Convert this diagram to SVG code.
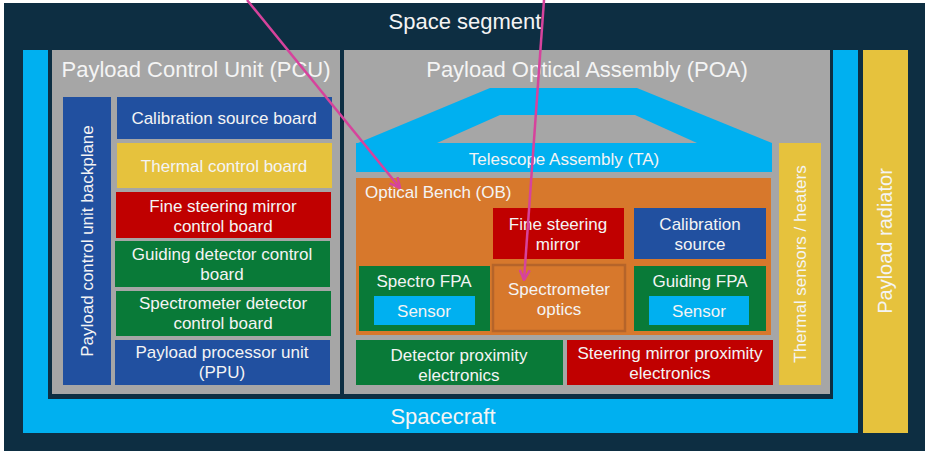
<svg xmlns="http://www.w3.org/2000/svg" width="925" height="451" viewBox="0 0 925 451">
  <defs>
    <style>
      text { font-family: "Liberation Sans", Arial, sans-serif; fill: #F4F4F4; text-anchor: middle; }
      .title { font-size: 22px; }
      .lbl { font-size: 17px; }
      .navy { fill: #0D2E42; }
      .sky { fill: #00B0F0; }
      .grey { fill: #A6A6A6; }
      .blue { fill: #2150A0; }
      .yellow { fill: #E6C23D; }
      .red { fill: #C00000; }
      .green { fill: #097A38; }
      .orange { fill: #D7782C; }
      .conn { stroke: #D6439C; stroke-width: 2.5; fill: none; }
    </style>
    <marker id="vhead" viewBox="0 0 12 12" refX="11" refY="6" markerWidth="12" markerHeight="12" markerUnits="userSpaceOnUse" orient="auto">
      <path d="M1,1 L11,6 L1,11" fill="none" stroke="#D6439C" stroke-width="2.5"/>
    </marker>
  </defs>

  <rect width="925" height="451" fill="#FFFFFF"/>

  <!-- Space segment -->
  <g id="space-segment">
    <rect class="navy" x="4" y="3" width="921" height="448"/>
    <text class="title" x="465" y="29">Space segment</text>
  </g>

  <!-- Spacecraft -->
  <g id="spacecraft">
    <rect class="sky" x="23" y="50" width="835" height="383"/>
    <rect class="navy" x="48" y="50" width="785" height="349"/>
    <text class="title" x="443" y="424">Spacecraft</text>
  </g>

  <!-- Payload radiator -->
  <g id="payload-radiator">
    <rect class="yellow" x="863" y="50" width="45" height="383"/>
    <text class="title" style="font-size:20px" transform="translate(892,241) rotate(-90)">Payload radiator</text>
  </g>

  <!-- Payload Control Unit -->
  <g id="pcu">
    <rect class="grey" x="52" y="50" width="288" height="344"/>
    <text class="title" x="196" y="77">Payload Control Unit (PCU)</text>
  </g>

  <g id="pcu-backplane">
    <rect class="blue" x="63" y="97" width="48" height="288"/>
    <text class="lbl" transform="translate(93,241) rotate(-90)">Payload control unit backplane</text>
  </g>

  <g id="calibration-source-board">
    <rect class="blue" x="117" y="97" width="215" height="42"/>
    <text class="lbl" x="224" y="124">Calibration source board</text>
  </g>

  <g id="thermal-control-board">
    <rect class="yellow" x="117" y="143" width="215" height="45"/>
    <text class="lbl" x="224" y="172">Thermal control board</text>
  </g>

  <g id="fsm-control-board">
    <rect class="red" x="116" y="192" width="215" height="46"/>
    <text class="lbl" x="223" y="212">Fine steering mirror</text>
    <text class="lbl" x="223" y="232">control board</text>
  </g>

  <g id="guiding-detector-control-board">
    <rect class="green" x="115" y="241" width="215" height="46"/>
    <text class="lbl" x="222" y="260">Guiding detector control</text>
    <text class="lbl" x="222" y="280">board</text>
  </g>

  <g id="spectrometer-detector-control-board">
    <rect class="green" x="116" y="291" width="215" height="45"/>
    <text class="lbl" x="223" y="309">Spectrometer detector</text>
    <text class="lbl" x="223" y="329">control board</text>
  </g>

  <g id="ppu">
    <rect class="blue" x="115" y="340" width="215" height="45"/>
    <text class="lbl" x="222" y="358">Payload processor unit</text>
    <text class="lbl" x="222" y="378">(PPU)</text>
  </g>

  <!-- Payload Optical Assembly -->
  <g id="poa">
    <rect class="grey" x="344" y="50" width="486" height="344"/>
    <text class="title" x="587" y="77">Payload Optical Assembly (POA)</text>
  </g>

  <g id="telescope-assembly">
    <polygon class="sky" points="358,143 490,88 637,88 772,143"/>
    <polygon class="grey" points="437,143 500,115 635,115 697,143"/>
    <rect class="sky" x="356" y="143" width="416" height="29"/>
    <text class="lbl" x="564" y="165">Telescope Assembly (TA)</text>
  </g>

  <g id="thermal-sensors-heaters">
    <rect class="yellow" x="779" y="143" width="42" height="242"/>
    <text class="lbl" transform="translate(806,264) rotate(-90)">Thermal sensors / heaters</text>
  </g>

  <g id="optical-bench">
    <rect class="orange" x="356" y="178" width="415" height="157"/>
    <text class="lbl" x="365" y="198" style="text-anchor:start">Optical Bench (OB)</text>
  </g>

  <g id="fine-steering-mirror">
    <rect class="red" x="493" y="208" width="131" height="51"/>
    <text class="lbl" x="558" y="230">Fine steering</text>
    <text class="lbl" x="558" y="250">mirror</text>
  </g>

  <g id="calibration-source">
    <rect class="blue" x="634" y="208" width="132" height="51"/>
    <text class="lbl" x="700" y="230">Calibration</text>
    <text class="lbl" x="700" y="250">source</text>
  </g>

  <g id="spectro-fpa">
    <rect class="green" x="359" y="266" width="131" height="65"/>
    <text class="lbl" x="424" y="287">Spectro FPA</text>
    <rect class="sky" x="374" y="296" width="101" height="29"/>
    <text class="lbl" x="424" y="317">Sensor</text>
  </g>

  <g id="spectrometer-optics">
    <rect class="orange" x="493" y="265" width="132" height="66" stroke="#B5642A" stroke-width="2.5"/>
    <text class="lbl" x="559" y="295">Spectrometer</text>
    <text class="lbl" x="559" y="315">optics</text>
  </g>

  <g id="guiding-fpa">
    <rect class="green" x="634" y="266" width="132" height="65"/>
    <text class="lbl" x="700" y="287">Guiding FPA</text>
    <rect class="sky" x="649" y="296" width="100" height="29"/>
    <text class="lbl" x="699" y="317">Sensor</text>
  </g>

  <g id="detector-proximity-electronics">
    <rect class="green" x="356" y="340" width="207" height="45"/>
    <text class="lbl" x="459" y="361">Detector proximity</text>
    <text class="lbl" x="459" y="381">electronics</text>
  </g>

  <g id="steering-mirror-proximity-electronics">
    <rect class="red" x="567" y="340" width="206" height="45"/>
    <text class="lbl" x="670" y="359">Steering mirror proximity</text>
    <text class="lbl" x="670" y="379">electronics</text>
  </g>

  <!-- Pointer arrows -->
  <g id="connectors">
    <line class="conn" x1="247" y1="0" x2="400" y2="188" marker-end="url(#vhead)"/>
    <line class="conn" x1="544" y1="0" x2="524" y2="280" marker-end="url(#vhead)"/>
  </g>
</svg>
